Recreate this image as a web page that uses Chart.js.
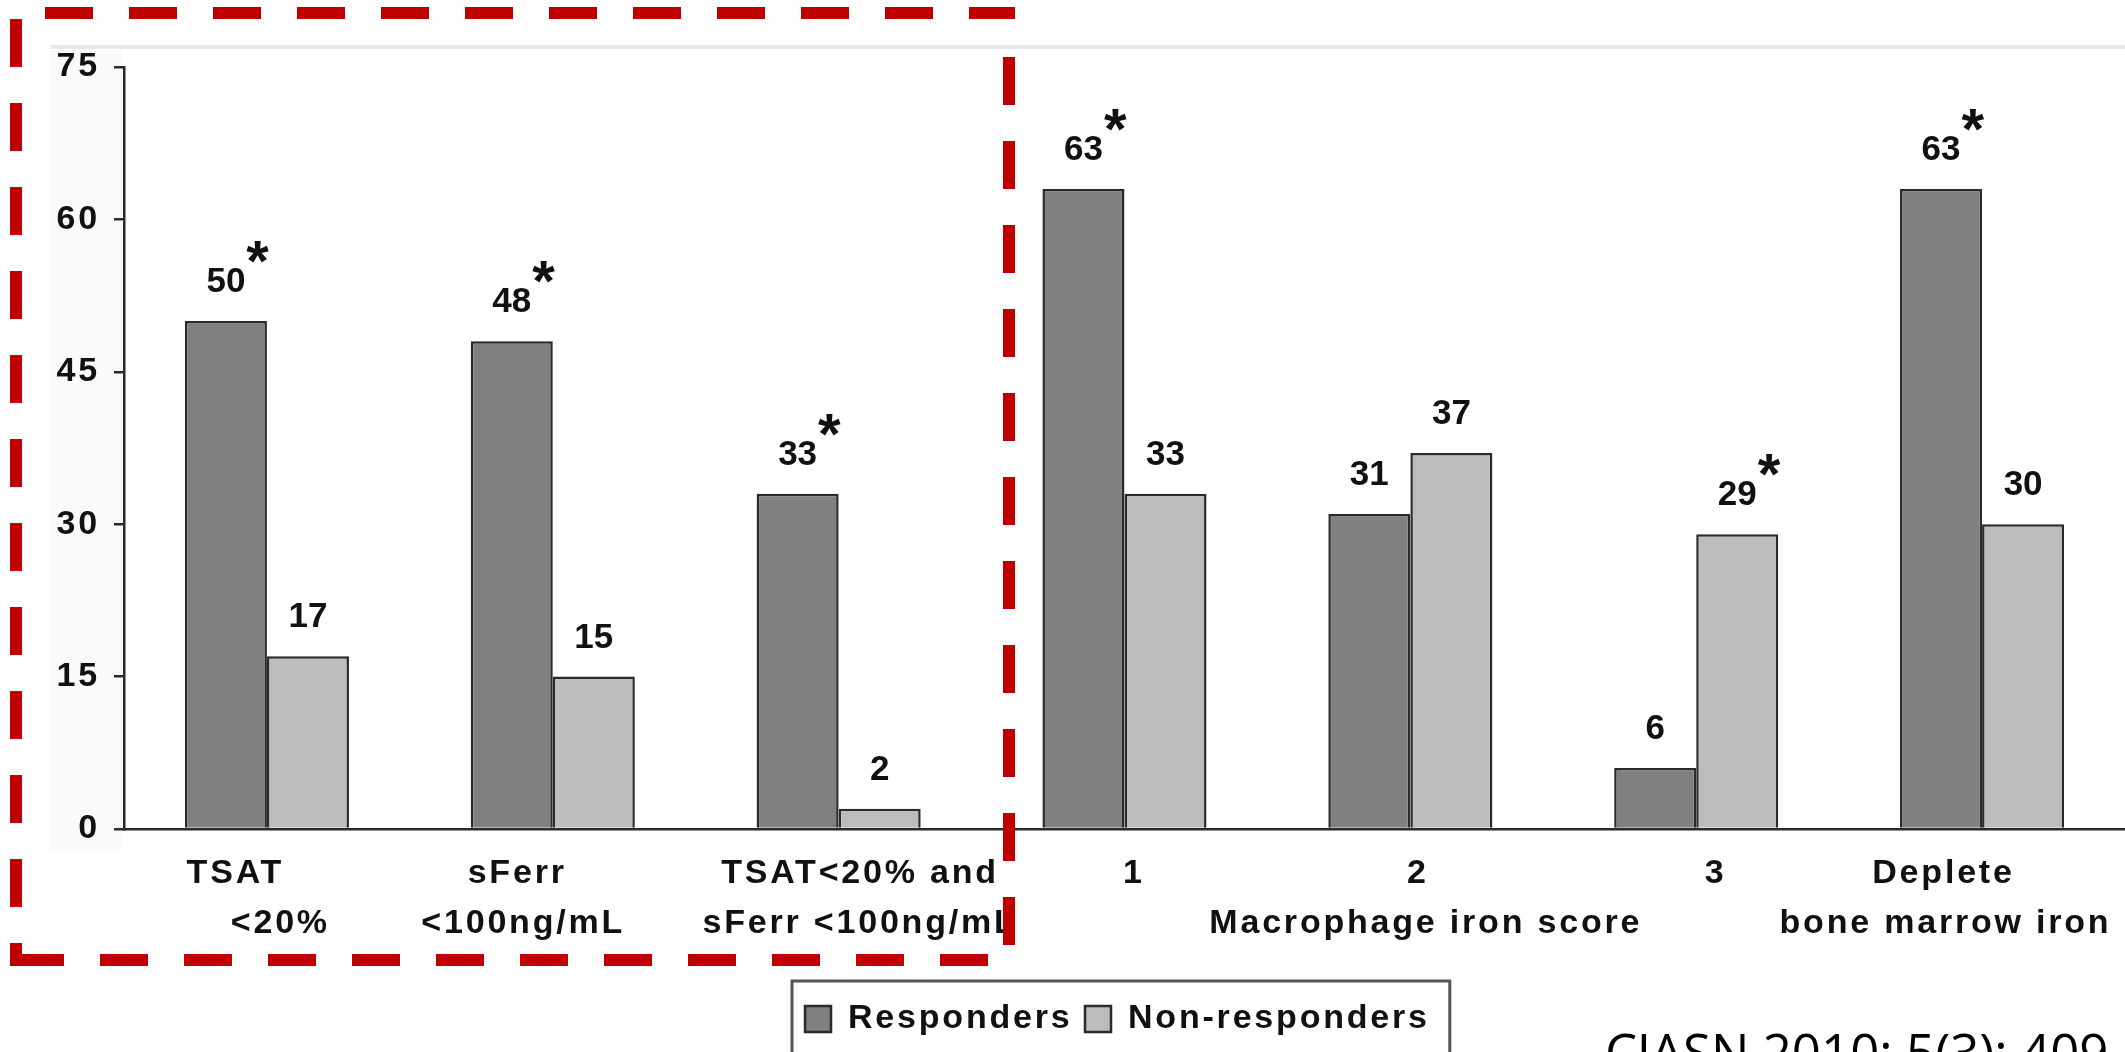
<!DOCTYPE html>
<html>
<head>
<meta charset="utf-8">
<title>Iron indices in responders and non-responders</title>
<script src="https://cdn.jsdelivr.net/npm/chart.js@4.4.1/dist/chart.umd.min.js"></script>
<style>
  html, body { margin: 0; padding: 0; background: #ffffff; }
  canvas { display: block; }
</style>
</head>
<body>
<canvas id="chart" width="2125" height="1052"></canvas>
<script>
// ---- data -------------------------------------------------------------
const categories = [
  ['TSAT', '<20%'],
  ['sFerr', '<100ng/mL'],
  ['TSAT<20% and', 'sFerr <100ng/mL'],
  ['1', ''],
  ['2', 'Macrophage iron score'],
  ['3', ''],
  ['Deplete', 'bone marrow iron']
];
const seriesNames = ['Responders', 'Non-responders'];
const responders = [50, 48, 33, 63, 31, 6, 63];
const nonResponders = [17, 15, 2, 33, 37, 29, 30];
// significance stars (*) shown next to a value
const respondersStar = [true, true, true, true, false, false, true];
const nonRespondersStar = [false, false, false, false, false, true, false];
const yTicks = [0, 15, 30, 45, 60, 75];
const citation = 'CJASN 2010; 5(3): 409';

// ---- layout / style ---------------------------------------------------
const W = 2125, H = 1052;
const PLOT = { left: 124, top: 67, bottom: 829 };
const TRACK = '2.8px';
const FONT = 'Liberation Sans';
const INK = '#111111';
const EDGE = '#2a2a2a';
// horizontal nudges of each category label line (px)
const labelNudge = [[-33, 12], [-37, -31], [20, 20], [8, 0], [6, 14], [18, 0], [-40, -38]];

const tracking = {
  id: 'tracking',
  beforeLayout(chart) { chart.ctx.letterSpacing = TRACK; },
  beforeDraw(chart) { chart.ctx.letterSpacing = TRACK; }
};

const backdrop = {
  id: 'backdrop',
  beforeDraw(chart) {
    const ctx = chart.ctx;
    ctx.save();
    ctx.fillStyle = '#ffffff';
    ctx.fillRect(0, 0, W, H);
    ctx.fillStyle = '#fafafa';
    ctx.fillRect(50, 50, PLOT.left - 52, 800);
    ctx.fillStyle = '#e8e8f0';
    ctx.fillRect(50, 45, W - 50, 4);
    ctx.restore();
  }
};

const legendPlacement = {
  id: 'legendPlacement',
  afterLayout(chart) {
    const lg = chart.legend;
    if (!lg || !lg.lineWidths) return;
    const pad = lg.options.labels.padding;
    const firstX = (lg.left + pad + lg.right - lg.lineWidths[0]) / 2;
    const dx = 805 - firstX;
    lg.left += dx;
    lg.right += dx;
    const h = lg.height;
    lg.top = 1006 - 4 - pad;
    lg.bottom = lg.top + h;
  }
};

const valueLabels = {
  id: 'valueLabels',
  afterDatasetsDraw(chart) {
    const ctx = chart.ctx;
    ctx.save();
    ctx.letterSpacing = '0px';
    ctx.fillStyle = INK;
    chart.data.datasets.forEach((ds, di) => {
      const stars = di === 0 ? respondersStar : nonRespondersStar;
      chart.getDatasetMeta(di).data.forEach((bar, i) => {
        const txt = String(ds.data[i]);
        const base = bar.y - 29;
        ctx.font = `bold 35px "${FONT}"`;
        ctx.textAlign = 'center';
        ctx.textBaseline = 'alphabetic';
        ctx.fillText(txt, bar.x, base);
        if (stars[i]) {
          const w = ctx.measureText(txt).width;
          ctx.font = `bold 58px "${FONT}"`;
          ctx.textAlign = 'left';
          ctx.fillText('*', bar.x + w / 2 + 1, base - 11);
        }
      });
    });
    ctx.restore();
  }
};

const overlay = {
  id: 'overlay',
  afterDraw(chart) {
    const ctx = chart.ctx;
    const xs = chart.scales.x;
    ctx.save();

    // category labels under the axis
    ctx.letterSpacing = TRACK;
    ctx.font = `bold 34px "${FONT}"`;
    ctx.fillStyle = INK;
    ctx.textAlign = 'center';
    ctx.textBaseline = 'alphabetic';
    categories.forEach((lines, i) => {
      const cx = xs.getPixelForValue(i);
      lines.forEach((t, j) => {
        if (t) ctx.fillText(t, cx + labelNudge[i][j] + 1.4, PLOT.bottom + 54 + j * 50);
      });
    });

    // frame around the legend
    const hb = chart.legend.legendHitBoxes;
    if (hb && hb.length) {
      const last = hb[hb.length - 1];
      const l = hb[0].left - 13;
      const r = last.left + last.width + 20;
      const t = hb[0].top - 21;
      ctx.strokeStyle = '#555555';
      ctx.lineWidth = 3;
      ctx.strokeRect(l, t, r - l, H + 20 - t);
    }

    // source note
    ctx.letterSpacing = '0px';
    ctx.font = '51px "Open Sans"';
    ctx.fillStyle = '#000000';
    ctx.textAlign = 'left';
    ctx.fillText(citation, 1605, 1071);

    // dashed red frame around the serum-marker groups
    ctx.strokeStyle = '#c00000';
    ctx.lineWidth = 12;
    ctx.lineCap = 'butt';
    ctx.setLineDash([48, 36]);
    const seg = (x1, y1, x2, y2) => {
      ctx.beginPath(); ctx.moveTo(x1, y1); ctx.lineTo(x2, y2); ctx.stroke();
    };
    seg(45, 13, 1015, 13);
    seg(1009, 57, 1009, 966);
    seg(16, 960, 1015, 960);
    seg(16, 19, 16, 966);
    ctx.setLineDash([]);
    ctx.restore();
  }
};

new Chart(document.getElementById('chart'), {
  type: 'bar',
  data: {
    labels: categories,
    datasets: [
      {
        label: seriesNames[0],
        data: responders,
        backgroundColor: '#808080',
        borderColor: EDGE,
        borderWidth: 2.5
      },
      {
        label: seriesNames[1],
        data: nonResponders,
        backgroundColor: '#bcbcbc',
        borderColor: EDGE,
        borderWidth: 2.5
      }
    ]
  },
  options: {
    responsive: false,
    animation: false,
    devicePixelRatio: 1,
    layout: { padding: { top: PLOT.top, left: 0, right: 0, bottom: 0 } },
    datasets: { bar: { categoryPercentage: 0.574, barPercentage: 1.0 } },
    scales: {
      x: {
        offset: true,
        ticks: { display: false },
        grid: { display: false, drawTicks: false },
        border: { display: true, color: EDGE, width: 2.5 },
        afterFit(s) { s.height = H - PLOT.bottom - s.chart.legend.height; }
      },
      y: {
        min: 0,
        max: 75,
        afterBuildTicks(s) { s.ticks = yTicks.map(v => ({ value: v })); },
        afterFit(s) { s.width = PLOT.left; },
        ticks: { font: { family: FONT, size: 34, weight: 'bold' }, color: INK, padding: 14 },
        grid: { drawOnChartArea: false, drawTicks: true, tickLength: 10, color: EDGE, lineWidth: 2.5 },
        border: { display: true, color: EDGE, width: 2.5 }
      }
    },
    plugins: {
      legend: {
        position: 'bottom',
        align: 'center',
        labels: {
          font: { family: FONT, size: 34, weight: 'bold' },
          color: INK,
          boxWidth: 26,
          boxHeight: 26,
          padding: 12.5
        }
      },
      tooltip: { enabled: false },
      title: { display: false }
    }
  },
  plugins: [tracking, backdrop, legendPlacement, valueLabels, overlay]
});
</script>
</body>
</html>
